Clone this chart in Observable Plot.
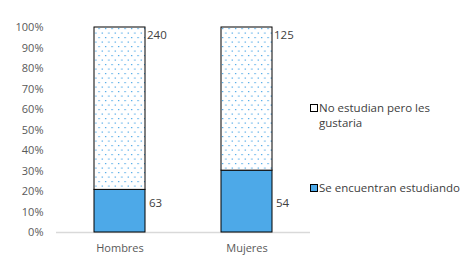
<!DOCTYPE html>
<html><head><meta charset="utf-8">
<script src="https://cdn.jsdelivr.net/npm/d3@7"></script>
<script src="https://cdn.jsdelivr.net/npm/@observablehq/plot@0.6"></script>
<style>
body{margin:0;background:#fff;font-family:"Open Sans",sans-serif;}
#wrap{position:relative;width:473px;height:278px;}
.leg{position:absolute;font-size:11.5px;color:#404040;line-height:15px;}
.sw{position:absolute;width:6px;height:6px;border:1px solid #000;}
</style></head>
<body><div id="wrap"></div>
<script>
const categories = ["Hombres", "Mujeres"];
const seriesNames = ["Se encuentran estudiando", "No estudian pero les gustaria"];
const estudiando = [63, 54];
const noEstudian = [240, 125];
const yTicks = [0,0.1,0.2,0.3,0.4,0.5,0.6,0.7,0.8,0.9,1];

const rows = [];
categories.forEach((c,i)=>{
  rows.push({cat:c, series:seriesNames[0], value:estudiando[i], fill:"#4DA9E8"});
  rows.push({cat:c, series:seriesNames[1], value:noEstudian[i], fill:"url(#dots)"});
});
const topLabels = categories.map((c,i)=>({cat:c, y:1, text:String(noEstudian[i])}));
const botLabels = categories.map((c,i)=>({cat:c, y:0.14, text:String(estudiando[i])}));

const chart = Plot.plot({
  width:473, height:278,
  marginLeft:56, marginRight:163, marginTop:27, marginBottom:46,
  style:{fontFamily:"Open Sans, sans-serif", fontSize:"11px", color:"#595959", background:"transparent"},
  x:{domain:categories, paddingInner:0.6, paddingOuter:0.3, label:null, tickSize:0, tickPadding:12},
  y:{domain:[0,1], ticks:yTicks, tickFormat:d=>Math.round(d*100)+"%", label:null, tickSize:0, tickPadding:13},
  marks:[
    Plot.ruleY([0],{stroke:"#d9d9d9", strokeWidth:1.5}),
    Plot.barY(rows, Plot.stackY({offset:"normalize", order:null, x:"cat", y:"value", fill:"fill", stroke:"#000", strokeWidth:1})),
    Plot.text(topLabels,{x:"cat", y:"y", text:"text", dx:27, dy:8, textAnchor:"start", fill:"#404040", fontSize:11.5}),
    Plot.text(botLabels,{x:"cat", y:"y", text:"text", dx:29, textAnchor:"start", fill:"#404040", fontSize:11.5})
  ]
});
const ns="http://www.w3.org/2000/svg";
const defs=document.createElementNS(ns,"defs");
defs.innerHTML=`<pattern id="dots" patternUnits="userSpaceOnUse" width="6.5" height="9"><rect width="6.5" height="9" fill="#fff"/><rect x="1" y="1" width="1.2" height="1.2" fill="#3FA2E6"/><rect x="4.25" y="5.5" width="1.2" height="1.2" fill="#3FA2E6"/></pattern>`;
chart.insertBefore(defs, chart.firstChild);
const wrap=document.getElementById("wrap");
wrap.appendChild(chart);
chart.style.position="absolute";chart.style.left="0";chart.style.top="0";
const legend=[
  {text:"No estudian pero les<br>gustaria", bg:"#fff", top:100},
  {text:"Se encuentran estudiando", bg:"#4DA9E8", top:180}
];
legend.forEach(l=>{
  const s=document.createElement("div");s.className="sw";s.style.left="310px";s.style.top=(l.top+4)+"px";s.style.background=l.bg;wrap.appendChild(s);
  const t=document.createElement("div");t.className="leg";t.style.left="319px";t.style.top=l.top+"px";t.innerHTML=l.text;wrap.appendChild(t);
});
</script></body></html>
